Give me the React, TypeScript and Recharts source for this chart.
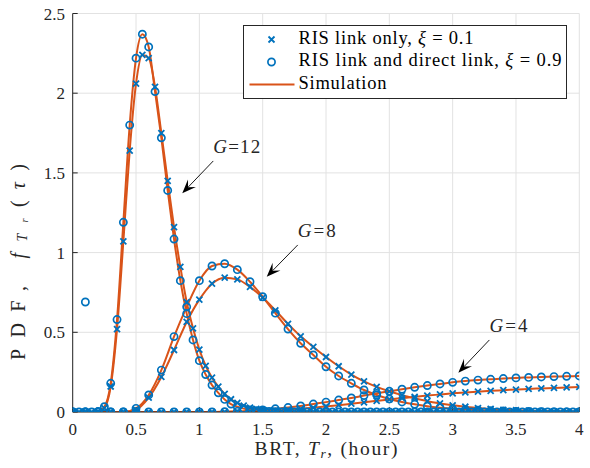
import {
  ComposedChart,
  Line,
  Scatter,
  XAxis,
  YAxis,
  CartesianGrid,
  ReferenceLine,
} from "recharts";

const BLUE = "#0072BD";
const ORANGE = "#D95319";
const INK = "#262626";
const FONT = "Liberation Serif";

// x grids: G=12 sampled every 0.05, G=8 and G=4 every 0.1
const xFine = [
  0, 0.05, 0.1, 0.15, 0.2, 0.25, 0.3, 0.35, 0.4, 0.45, 0.5, 0.55, 0.6, 0.65, 0.7, 0.75,
  0.8, 0.85, 0.9, 0.95, 1, 1.05, 1.1, 1.15, 1.2, 1.25, 1.3, 1.35, 1.4, 1.45, 1.5, 1.55,
  1.6, 1.65, 1.7, 1.75, 1.8, 1.85, 1.9, 1.95, 2, 2.05, 2.1, 2.15, 2.2, 2.25, 2.3, 2.35,
  2.4, 2.45, 2.5, 2.55, 2.6, 2.65, 2.7, 2.75, 2.8, 2.85, 2.9, 2.95, 3, 3.05, 3.1, 3.15,
  3.2, 3.25, 3.3, 3.35, 3.4, 3.45, 3.5, 3.55, 3.6, 3.65, 3.7, 3.75, 3.8, 3.85, 3.9, 3.95, 4,
];
const xCoarse = [
  0, 0.1, 0.2, 0.3, 0.4, 0.5, 0.6, 0.7, 0.8, 0.9, 1, 1.1, 1.2, 1.3, 1.4, 1.5, 1.6, 1.7,
  1.8, 1.9, 2, 2.1, 2.2, 2.3, 2.4, 2.5, 2.6, 2.7, 2.8, 2.9, 3, 3.1, 3.2, 3.3, 3.4, 3.5,
  3.6, 3.7, 3.8, 3.9, 4,
];

// RIS link only, xi = 0.1 (crosses)
const g12Link = [
  0, 0, 0, 0, 0.002, 0.025, 0.16, 0.52, 1.07, 1.64, 2.06, 2.24, 2.22, 2.04, 1.75, 1.45,
  1.16, 0.91, 0.69, 0.525, 0.392, 0.29, 0.215, 0.159, 0.113, 0.08, 0.057, 0.04, 0.028, 0.02,
  0.014, 0.01, 0.007, 0.005, 0.004, 0.003, 0.002, 0.001, 0.001, 0, 0, 0, 0, 0, 0, 0, 0, 0,
  0, 0, 0, 0, 0, 0, 0, 0, 0, 0, 0, 0, 0, 0, 0, 0, 0, 0, 0, 0, 0, 0, 0, 0, 0, 0, 0, 0, 0,
  0, 0, 0, 0,
];
// RIS link and direct link, xi = 0.9 (circles)
const g12Direct = [
  0, 0, 0, 0, 0.003, 0.033, 0.18, 0.58, 1.19, 1.8, 2.22, 2.37, 2.29, 2.01, 1.72, 1.39,
  1.085, 0.824, 0.617, 0.452, 0.322, 0.235, 0.169, 0.12, 0.079, 0.05, 0.033, 0.021, 0.013,
  0.008, 0.005, 0.003, 0.002, 0.001, 0.001, 0, 0, 0, 0, 0, 0, 0, 0, 0, 0, 0, 0, 0, 0, 0,
  0, 0, 0, 0, 0, 0, 0, 0, 0, 0, 0, 0, 0, 0, 0, 0, 0, 0, 0, 0, 0, 0, 0, 0, 0, 0, 0, 0, 0,
  0, 0,
];
const g8Link = [
  0, 0, 0, 0, 0, 0.015, 0.09, 0.22, 0.389, 0.565, 0.705, 0.805, 0.843, 0.832, 0.785, 0.718,
  0.638, 0.553, 0.475, 0.408, 0.345, 0.287, 0.235, 0.192, 0.158, 0.13, 0.106, 0.086, 0.068,
  0.054, 0.042, 0.033, 0.025, 0.019, 0.014, 0.011, 0.008, 0.006, 0.004, 0.003, 0.002,
];
const g8Direct = [
  0, 0, 0, 0, 0, 0.023, 0.107, 0.263, 0.473, 0.66, 0.824, 0.916, 0.93, 0.893, 0.817, 0.723,
  0.62, 0.52, 0.431, 0.358, 0.284, 0.226, 0.18, 0.138, 0.107, 0.082, 0.063, 0.048, 0.036,
  0.027, 0.02, 0.015, 0.011, 0.008, 0.006, 0.004, 0.003, 0.002, 0.001, 0.001, 0,
];
const g4Link = [
  0, 0, 0, 0, 0, 0, 0, 0, 0, 0, 0, 0, 0, 0, 0.002, 0.005, 0.009, 0.014, 0.02, 0.027, 0.035,
  0.043, 0.052, 0.061, 0.07, 0.079, 0.087, 0.095, 0.103, 0.11, 0.117, 0.123, 0.128, 0.133,
  0.137, 0.141, 0.145, 0.148, 0.151, 0.154, 0.157,
];
const g4Direct = [
  0, 0, 0, 0, 0, 0, 0, 0, 0, 0, 0, 0, 0.002, 0.004, 0.008, 0.013, 0.02, 0.028, 0.038, 0.05,
  0.062, 0.075, 0.088, 0.103, 0.117, 0.13, 0.143, 0.155, 0.166, 0.176, 0.186, 0.194, 0.2,
  0.205, 0.21, 0.214, 0.217, 0.22, 0.222, 0.224, 0.226,
];
// stray circle near the origin
const strayPoint = [{ x: 0.1, y: 0.69 }];

const xTicks = [0, 0.5, 1, 1.5, 2, 2.5, 3, 3.5, 4];
const yTicks = [0, 0.5, 1, 1.5, 2, 2.5];

// annotation arrows: label, start (text corner) -> tip
const notes = [
  { label: "12", x1: 1.11, y1: 1.575, x2: 0.865, y2: 1.372 },
  { label: "8", x1: 1.777, y1: 1.048, x2: 1.532, y2: 0.849 },
  { label: "4", x1: 3.29, y1: 0.452, x2: 3.045, y2: 0.247 },
];

const toPoints = (xs: number[], ys: number[]) => xs.map((x, i) => ({ x, y: ys[i] }));

const CrossMark = ({ cx, cy }: any) => (
  <path
    d={`M${cx - 3},${cy - 3}L${cx + 3},${cy + 3}M${cx - 3},${cy + 3}L${cx + 3},${cy - 3}`}
    stroke={BLUE}
    strokeWidth={1.8}
    fill="none"
  />
);

const CircleMark = ({ cx, cy }: any) => (
  <circle cx={cx} cy={cy} r={3.6} stroke={BLUE} strokeWidth={1.7} fill="none" />
);

const Arrow = ({ x1, y1, x2, y2, label }: any) => {
  const dx = x2 - x1;
  const dy = y2 - y1;
  const len = Math.hypot(dx, dy) || 1;
  const ux = dx / len;
  const uy = dy / len;
  const px = -uy;
  const py = ux;
  const L = 14;
  const W = 5.5;
  const bx = x2 - ux * L;
  const by = y2 - uy * L;
  const nx = x2 - ux * L * 0.6;
  const ny = y2 - uy * L * 0.6;
  return (
    <g>
      <line x1={x1} y1={y1} x2={nx} y2={ny} stroke="#000" strokeWidth={0.9} />
      <polygon
        points={`${x2},${y2} ${bx + px * W},${by + py * W} ${nx},${ny} ${bx - px * W},${by - py * W}`}
        fill="#000"
      />
      <text
        x={x1}
        y={y1 - 12}
        style={{ fontFamily: FONT }}
        fontSize={19}
        fill={INK}
        dominantBaseline="middle"
        textLength={label.length > 1 ? 47 : 38}
        lengthAdjust="spacing"
      >
        <tspan fontStyle="italic">G</tspan>
        <tspan>={label}</tspan>
      </text>
    </g>
  );
};

const legendRows = [
  { kind: "x", text: "RIS link only, ", xi: "0.1", width: 175 },
  { kind: "o", text: "RIS link and direct link, ", xi: "0.9", width: 263 },
  { kind: "line", text: "Simulation", xi: "", width: 88 },
];

function Overlay() {
  return (
    <svg
      width={590}
      height={468}
      style={{ position: "absolute", left: 0, top: 0, pointerEvents: "none", fontFamily: FONT }}
    >
      <g transform="translate(243.5,25.5)">
        <rect x={0} y={0} width={323} height={73} fill="#fff" stroke={INK} strokeWidth={1} />
        {legendRows.map((r, i) => {
          const cy = 14 + i * 22.5;
          return (
            <g key={r.text}>
              {r.kind === "x" && <CrossMark cx={28} cy={cy} />}
              {r.kind === "o" && <CircleMark cx={28} cy={cy} />}
              {r.kind === "line" && (
                <line x1={6} y1={cy} x2={51} y2={cy} stroke={ORANGE} strokeWidth={2} />
              )}
              <text
                x={55}
                y={cy}
                style={{ fontFamily: FONT }}
                fontSize={18.5}
                fill="#000"
                dominantBaseline="middle"
                textLength={r.width}
                lengthAdjust="spacing"
              >
                {r.text}
                {r.xi && (
                  <>
                    <tspan fontStyle="italic">ξ</tspan>
                    <tspan> = {r.xi}</tspan>
                  </>
                )}
              </text>
            </g>
          );
        })}
      </g>
      <text
        x={326}
        y={451}
        textAnchor="middle"
        style={{ fontFamily: FONT }}
        fontSize={19.5}
        fill={INK}
        dominantBaseline="middle"
        textLength={143}
        lengthAdjust="spacing"
      >
        BRT, <tspan fontStyle="italic">T</tspan>
        <tspan fontStyle="italic" fontSize={13.5} dy={4}>r</tspan>
        <tspan dy={-4}>, (hour)</tspan>
      </text>
      <text
        transform="translate(20,262) rotate(-90)"
        textAnchor="middle"
        style={{ fontFamily: FONT }}
        fontSize={20}
        fill={INK}
        dominantBaseline="middle"
        textLength={196}
        lengthAdjust="spacing"
      >
        PDF,{" "}
        <tspan fontStyle="italic">f</tspan>
        <tspan fontStyle="italic" fontSize={14} dy={4}>T</tspan>
        <tspan fontStyle="italic" fontSize={10.5} dy={2}>r</tspan>
        <tspan dy={-6}>(</tspan>
        <tspan fontStyle="italic">τ</tspan>
        <tspan>)</tspan>
      </text>
    </svg>
  );
}

const tickStyle = { fontFamily: FONT, fontSize: 17, fill: INK };

export default function App() {
  const series = [
    { key: "g12l", pts: toPoints(xFine, g12Link), mark: "x" },
    { key: "g12d", pts: toPoints(xFine, g12Direct), mark: "o" },
    { key: "g8l", pts: toPoints(xCoarse, g8Link), mark: "x" },
    { key: "g8d", pts: toPoints(xCoarse, g8Direct), mark: "o" },
    { key: "g4l", pts: toPoints(xCoarse, g4Link), mark: "x" },
    { key: "g4d", pts: toPoints(xCoarse, g4Direct), mark: "o" },
  ];

  return (
    <div
      style={{
        position: "absolute",
        left: 0,
        top: 0,
        width: 590,
        height: 468,
        background: "#fff",
        fontFamily: FONT,
      }}
    >
      <ComposedChart width={590} height={468} margin={{ top: 13.5, right: 10.7, bottom: 0, left: 0 }}>
        <CartesianGrid stroke="#e2e2e2" strokeWidth={1} />
        <XAxis
          dataKey="x"
          type="number"
          domain={[0, 4]}
          ticks={xTicks}
          allowDataOverflow
          height={56}
          stroke={INK}
          tick={tickStyle}
          tickSize={-5}
          tickMargin={16}
        />
        <XAxis
          xAxisId="top"
          orientation="top"
          dataKey="x"
          type="number"
          domain={[0, 4]}
          ticks={xTicks}
          allowDataOverflow
          height={0}
          stroke={INK}
          tick={false}
          tickSize={-5}
        />
        <YAxis
          dataKey="y"
          type="number"
          domain={[0, 2.5]}
          ticks={yTicks}
          allowDataOverflow
          width={72.7}
          stroke={INK}
          tick={tickStyle}
          tickSize={-5}
          tickMargin={12.7}
        />
        <YAxis
          yAxisId="right"
          orientation="right"
          dataKey="y"
          type="number"
          domain={[0, 2.5]}
          ticks={yTicks}
          allowDataOverflow
          width={0}
          stroke={INK}
          tick={false}
          tickSize={-5}
        />
        {series.map((s) => (
          <Scatter
            key={`m-${s.key}`}
            data={s.pts}
            shape={s.mark === "x" ? <CrossMark /> : <CircleMark />}
            isAnimationActive={false}
          />
        ))}
        <Scatter data={strayPoint} shape={<CircleMark />} isAnimationActive={false} />
        {series.map((s) => (
          <Line
            key={`l-${s.key}`}
            data={s.pts}
            dataKey="y"
            type="monotone"
            stroke={ORANGE}
            strokeWidth={2}
            dot={false}
            activeDot={false}
            isAnimationActive={false}
          />
        ))}
        {notes.map((n) => (
          <ReferenceLine
            key={n.label}
            segment={[
              { x: n.x1, y: n.y1 },
              { x: n.x2, y: n.y2 },
            ]}
            shape={(p: any) => <Arrow {...p} label={n.label} />}
          />
        ))}
      </ComposedChart>
      <Overlay />
    </div>
  );
}
